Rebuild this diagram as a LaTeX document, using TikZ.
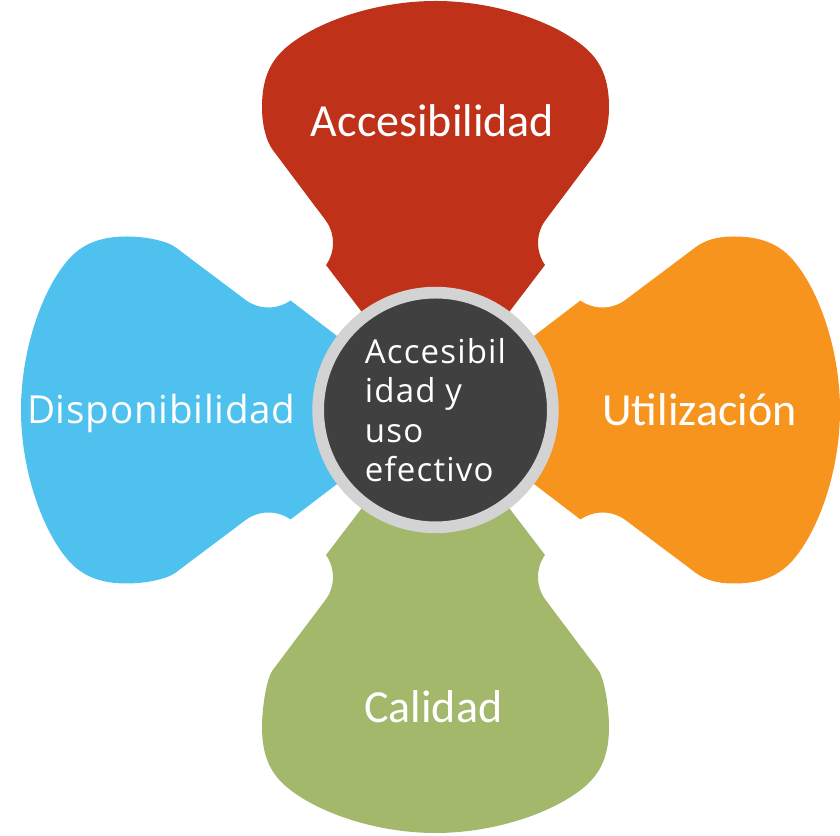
\documentclass[tikz,border=0pt]{standalone}
\usepackage{fontspec}
\setmainfont{Carlito}
\newfontfamily\hubfont[LetterSpace=3.5]{Open Sans}
\newfontfamily\dispfont[LetterSpace=2]{Open Sans}
\definecolor{petalred}{HTML}{C0311A}
\definecolor{petalorange}{HTML}{F7941D}
\definecolor{petalblue}{HTML}{4EC1EF}
\definecolor{petalgreen}{HTML}{A3B86A}
\definecolor{hubdark}{HTML}{404040}
\definecolor{hubring}{HTML}{D3D3D3}
\newcommand\drawpetal[3]{%
  \begin{scope}[shift={(435.5,425)}, rotate=#1]
    \fill[#3] (37,50) -- (109.5,145)
      arc[start angle=215, end angle=143.13, radius=38.5]
      -- (162.7,260)
      .. controls (169.3,268.8) and (173.5,{285+#2}) .. (173.5,{303+#2})
      .. controls (173.5,{330+#2}) and (166,{348+#2}) .. (150,{362+#2})
      .. controls (120,{388+#2}) and (60,{409+#2}) .. (0,{409+#2})
      .. controls (-60,{409+#2}) and (-120,{388+#2}) .. (-150,{362+#2})
      .. controls (-166,{348+#2}) and (-173.5,{330+#2}) .. (-173.5,{303+#2})
      .. controls (-173.5,{285+#2}) and (-169.3,268.8) .. (-162.7,260)
      -- (-110.2,190.1)
      arc[start angle=36.87, end angle=-35, radius=38.5]
      -- (-37,50) -- cycle;
  \end{scope}}
\begin{document}
\begin{tikzpicture}[x=1pt,y=1pt,
  petallabel/.style={text=white, inner sep=0pt, anchor=base,
    font=\fontsize{46}{50}\selectfont}]
\useasboundingbox (0,0) rectangle (840,835);
\drawpetal{0}{0}{petalred}
\drawpetal{-90}{-4.5}{petalorange}
\drawpetal{180}{14}{petalgreen}
\drawpetal{90}{5.5}{petalblue}
\node[circle, fill=hubdark, draw=hubring, line width=11.7pt,
  minimum size=234.7pt, inner sep=0pt, text=white, align=left,
  font=\hubfont\fontsize{33}{39.3}\selectfont] (hub) at (435.5,425)
  {Accesibil\\idad y\\uso\\efectivo};
\node[petallabel] (acc) at (432.5,698) {Accesibilidad};
\node[petallabel] (uti) at (699.5,409.3) {Utilización};
\node[petallabel] (cal) at (433.3,112.3) {Calidad};
\node[petallabel, font=\dispfont\fontsize{38.6}{45}\selectfont] (dis) at (161.3,411.7) {Disponibilidad};
\end{tikzpicture}
\end{document}
